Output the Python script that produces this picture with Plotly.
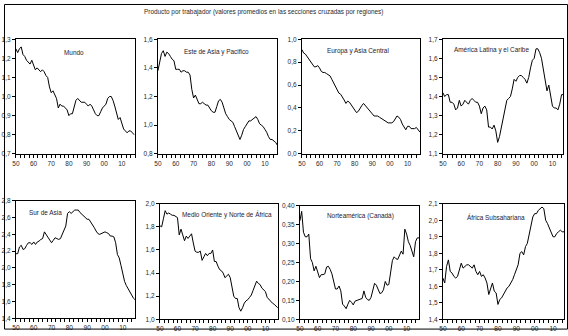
import plotly.graph_objects as go

years = list(range(1950, 2018))
years16 = list(range(1950, 2017))

tick_years = [1950, 1960, 1970, 1980, 1990, 2000, 2010]
tick_labels = ["50", "60", "70", "80", "90", "00", "10"]

title_text = "Producto por trabajador (valores promedios en las secciones cruzadas por regiones)"

names = ["Mundo", "Este de Asia y Pacifico", "Europa y Asia Central", "América Latina y el Caribe",
         "Sur de Asia", "Medio Oriente y Norte de África", "Norteamérica (Canadá)", "África Subsahariana"]

mundo = [1.25, 1.23, 1.25, 1.26, 1.22, 1.21, 1.19, 1.18, 1.17, 1.19,
         1.16, 1.14, 1.15, 1.14, 1.13, 1.14, 1.13, 1.11, 1.10, 1.05,
         1.02, 1.03, 1.01, 0.99, 0.94, 0.96, 0.95, 0.95, 0.94, 0.93,
         0.90, 0.91, 0.91, 0.95, 0.98, 0.99, 0.98, 0.97, 0.97, 0.97,
         0.96, 0.95, 0.96, 0.95, 0.93, 0.91, 0.90, 0.90, 0.92, 0.94,
         0.95, 0.96, 0.99, 1.00, 1.00, 0.98, 0.95, 0.92, 0.88, 0.89,
         0.86, 0.83, 0.82, 0.81, 0.82, 0.82, 0.81, 0.80]

asia_este = [1.38, 1.45, 1.50, 1.52, 1.48, 1.51, 1.50, 1.48, 1.46, 1.45,
             1.39, 1.39, 1.39, 1.37, 1.38, 1.38, 1.37, 1.37, 1.35, 1.25,
             1.19, 1.21, 1.18, 1.15, 1.15, 1.16, 1.15, 1.14, 1.14, 1.12,
             1.10, 1.09, 1.09, 1.13, 1.17, 1.18, 1.16, 1.12, 1.08, 1.06,
             1.04, 1.03, 1.02, 0.99, 0.96, 0.93, 0.90, 0.93, 0.97, 0.99,
             1.01, 1.03, 1.03, 1.04, 1.05, 1.06, 1.04, 1.01, 1.00, 0.99,
             0.97, 0.95, 0.92, 0.90, 0.90, 0.89, 0.88, 0.86]

europa = [0.91, 0.88, 0.87, 0.85, 0.83, 0.81, 0.78, 0.76, 0.76, 0.77,
          0.75, 0.72, 0.71, 0.71, 0.70, 0.69, 0.68, 0.65, 0.62, 0.60,
          0.56, 0.53, 0.52, 0.50, 0.47, 0.44, 0.46, 0.45, 0.43, 0.41,
          0.38, 0.36, 0.37, 0.40, 0.42, 0.44, 0.42, 0.40, 0.38, 0.36,
          0.35, 0.33, 0.33, 0.33, 0.32, 0.31, 0.30, 0.29, 0.28, 0.27,
          0.27, 0.27, 0.28, 0.31, 0.33, 0.32, 0.30, 0.26, 0.23, 0.21,
          0.24, 0.24, 0.22, 0.22, 0.22, 0.23, 0.21, 0.19]

america_latina = [1.42, 1.40, 1.41, 1.41, 1.37, 1.37, 1.36, 1.33, 1.34, 1.38,
                  1.35, 1.36, 1.38, 1.37, 1.36, 1.38, 1.39, 1.38, 1.37, 1.37,
                  1.35, 1.31, 1.34, 1.35, 1.33, 1.24, 1.24, 1.23, 1.25, 1.22,
                  1.16, 1.19, 1.24, 1.30, 1.35, 1.38, 1.39, 1.40, 1.44, 1.49,
                  1.48, 1.50, 1.51, 1.51, 1.50, 1.49, 1.47, 1.50, 1.55, 1.59,
                  1.60, 1.65, 1.65, 1.63, 1.60, 1.55, 1.48, 1.43, 1.46, 1.40,
                  1.35, 1.34, 1.34, 1.33, 1.36, 1.41, 1.41]

sur_asia = [2.17, 2.17, 2.25, 2.27, 2.22, 2.23, 2.27, 2.30, 2.30, 2.28,
            2.31, 2.28, 2.31, 2.32, 2.34, 2.35, 2.43, 2.40, 2.37, 2.33,
            2.30, 2.33, 2.36, 2.35, 2.34, 2.35, 2.40, 2.45, 2.50, 2.65,
            2.67, 2.65, 2.67, 2.69, 2.69, 2.69, 2.66, 2.64, 2.62, 2.60,
            2.58, 2.58, 2.55, 2.52, 2.48, 2.44, 2.41, 2.40, 2.41, 2.42,
            2.43, 2.42, 2.41, 2.38, 2.38, 2.37, 2.30, 2.16, 2.12, 2.03,
            1.93, 1.84, 1.79, 1.75, 1.71, 1.68, 1.64, 1.62]

medio_oriente = [1.81, 1.80, 1.87, 1.94, 1.91, 1.92, 1.91, 1.90, 1.90, 1.89,
                 1.88, 1.73, 1.78, 1.73, 1.68, 1.72, 1.70, 1.72, 1.74, 1.66,
                 1.59, 1.58, 1.58, 1.59, 1.51, 1.54, 1.57, 1.55, 1.57, 1.57,
                 1.60, 1.50, 1.50, 1.46, 1.43, 1.42, 1.40, 1.36, 1.38, 1.39,
                 1.36, 1.29, 1.20, 1.18, 1.18, 1.10, 1.07, 1.10, 1.14, 1.16,
                 1.17, 1.19, 1.21, 1.25, 1.30, 1.33, 1.31, 1.30, 1.27, 1.25,
                 1.24, 1.19, 1.17, 1.16, 1.14, 1.13, 1.11, 1.10]

norteamerica = [0.360, 0.385, 0.330, 0.318, 0.318, 0.325, 0.260, 0.250, 0.228, 0.240,
                0.225, 0.210, 0.218, 0.218, 0.220, 0.238, 0.240, 0.232, 0.220, 0.200,
                0.180, 0.180, 0.188, 0.175, 0.140, 0.135, 0.128, 0.140, 0.150, 0.145,
                0.138, 0.148, 0.150, 0.152, 0.155, 0.155, 0.175, 0.158, 0.152, 0.150,
                0.158, 0.175, 0.195, 0.190, 0.180, 0.168, 0.170, 0.178, 0.200, 0.190,
                0.192, 0.220, 0.255, 0.265, 0.260, 0.258, 0.270, 0.280, 0.272, 0.338,
                0.325, 0.305, 0.295, 0.280, 0.265, 0.305, 0.315, 0.315]

africa_sub = [1.65, 1.62, 1.72, 1.76, 1.69, 1.68, 1.66, 1.65, 1.66, 1.70,
              1.74, 1.71, 1.72, 1.73, 1.73, 1.72, 1.71, 1.73, 1.69, 1.67,
              1.69, 1.66, 1.67, 1.65, 1.62, 1.55, 1.58, 1.62, 1.57, 1.56,
              1.49, 1.52, 1.53, 1.55, 1.57, 1.59, 1.60, 1.62, 1.64, 1.67,
              1.70, 1.73, 1.80, 1.81, 1.79, 1.84, 1.86, 1.91, 1.96, 2.02,
              2.04, 2.04, 2.06, 2.07, 2.08, 2.07, 2.00, 1.98, 1.95, 1.92,
              1.90, 1.90, 1.92, 1.93, 1.94, 1.93, 1.93]

series = [mundo, asia_este, europa, america_latina, sur_asia, medio_oriente, norteamerica, africa_sub]
series_years = [years, years, years, years16, years, years, years, years16]

y_ranges = [(0.7, 1.3), (0.8, 1.6), (0.0, 1.0), (1.1, 1.7), (1.4, 2.8), (1.0, 2.0), (0.10, 0.40), (1.4, 2.1)]
y_dticks = [0.1, 0.2, 0.2, 0.1, 0.2, 0.2, 0.05, 0.1]
y_formats = [".1f", ".1f", ".1f", ".1f", ".1f", ".1f", ".2f", ".1f"]
x_ends = [2017.5, 2016.8, 2017.1, 2015.8, 2016.9, 2017.2, 2017.0, 2016.0]

W, H = 568, 336
# pixel boxes (left, right, top, bottom)
boxes = [(12, 132, 36, 153), (155, 275, 36, 153), (300, 419, 36, 153), (442, 563, 36, 153),
         (12, 132, 201, 321), (157, 276, 204, 322), (298, 418, 206, 322), (442, 564, 204, 322)]
label_pos = [(70, 50), (214, 49), (357, 48), (491, 47), (42, 213), (225, 215), (359, 217), (495, 218)]

FONT = "Liberation Sans Narrow, Arial Narrow, Liberation Sans, Arial, sans-serif"
TXT = "#2a2a2a"

fig = go.Figure()
layout = dict(
    width=W, height=H,
    margin=dict(l=0, r=0, t=0, b=0),
    paper_bgcolor="white", plot_bgcolor="white",
    showlegend=False,
    separators=",.",
    font=dict(family=FONT, size=6.5, color=TXT),
    annotations=[], shapes=[],
)

for i in range(8):
    ax = "" if i == 0 else str(i + 1)
    fig.add_trace(go.Scatter(x=series_years[i], y=series[i], mode="lines",
                             line=dict(color="black", width=1),
                             xaxis="x" + ax, yaxis="y" + ax, hoverinfo="skip"))
    l, r, t, b = boxes[i]
    layout["xaxis" + ax] = dict(
        domain=[l / W, r / W], range=[1950, x_ends[i]], anchor="y" + ax,
        tickmode="array", tickvals=tick_years, ticktext=tick_labels,
        ticks="outside", ticklen=3, tickwidth=1, tickcolor="black",
        minor=dict(tickmode="linear", tick0=1950, dtick=2.5, ticks="outside", ticklen=3, tickcolor="black"),
        showline=True, linecolor="black", linewidth=1, mirror=True,
        showgrid=False, zeroline=False, tickfont=dict(size=6.5, color=TXT, family=FONT),
    )
    layout["yaxis" + ax] = dict(
        domain=[1 - b / H, 1 - t / H], range=list(y_ranges[i]), anchor="x" + ax,
        tick0=y_ranges[i][0], dtick=y_dticks[i], tickformat=y_formats[i],
        ticks="outside", ticklen=3, tickwidth=1, tickcolor="black",
        showline=True, linecolor="black", linewidth=1, mirror=True,
        showgrid=False, zeroline=False, tickfont=dict(size=6.5, color=TXT, family=FONT),
    )
    lx, ly = label_pos[i]
    layout["annotations"].append(dict(
        x=lx / W, y=1 - ly / H, xref="paper", yref="paper", text=names[i],
        showarrow=False, xanchor="center", yanchor="middle",
        font=dict(size=6.4, color="#222233", family=FONT)))

layout["annotations"].append(dict(
    x=261 / W, y=1 - 8 / H, xref="paper", yref="paper", text=title_text,
    showarrow=False, xanchor="center", yanchor="middle",
    font=dict(size=6.4, color=TXT, family=FONT)))

layout["shapes"].append(dict(type="rect", xref="paper", yref="paper",
                             x0=0.5 / W, x1=1 - 0.5 / W, y0=1 - 332 / H, y1=1 - 0.5 / H,
                             line=dict(color="black", width=1)))

fig.update_layout(**layout)
fig.write_html("out.html", config={"displayModeBar": False, "staticPlot": True},
               post_script="document.body.style.margin='0';document.body.style.overflow='hidden';")
